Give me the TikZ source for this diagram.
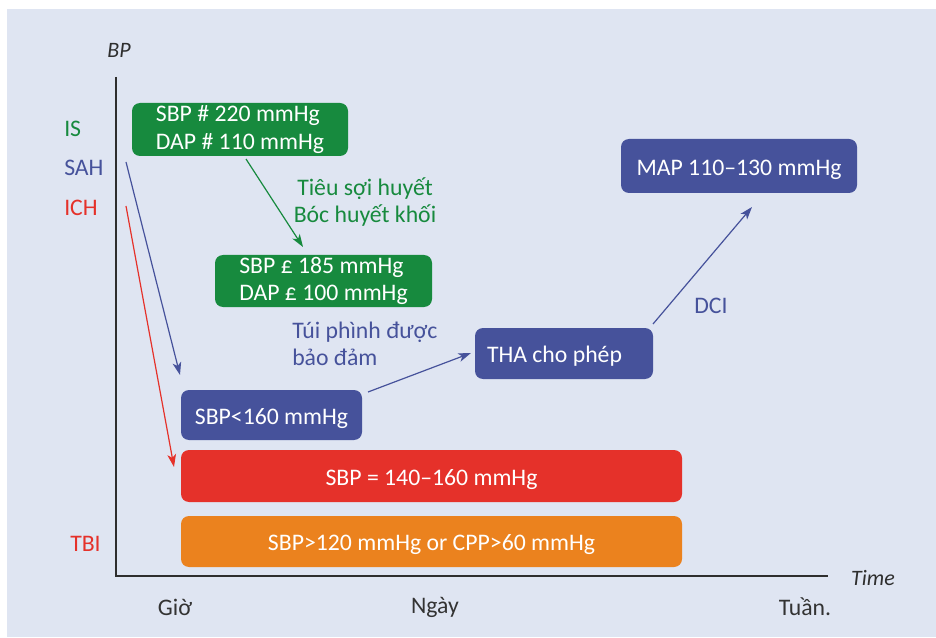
\documentclass[tikz,border=0pt]{standalone}
\usepackage{fontspec}
\setmainfont{Carlito}
\usetikzlibrary{arrows.meta}

\definecolor{panelbg}{HTML}{DFE5F2}
\definecolor{isgreen}{HTML}{178A3E}
\definecolor{sahblue}{HTML}{46529B}
\definecolor{ichred}{HTML}{E5312A}
\definecolor{tbiorange}{HTML}{EB821E}
\definecolor{axisgray}{HTML}{2E2E2E}
\definecolor{ticktext}{HTML}{333333}

\tikzset{
  box/.style={rounded corners=6pt, inner sep=0pt, text=white, align=left},
  onebox/.style={box, text height=14pt, text depth=0pt},
  tip/.style={-{Stealth[length=9.5pt,width=6.5pt,inset=2.5pt]}, line width=0.9pt},
  axisline/.style={line width=2.1pt, draw=axisgray},
  axlabel/.style={font=\fontsize{16.5}{19}\selectfont\itshape, text=axisgray, inner sep=0pt},
  tick/.style={text=ticktext, inner sep=0pt},
  side/.style={inner sep=0pt, anchor=west},
}

\begin{document}
\begin{tikzpicture}[x=0.75pt, y=-0.75pt, font=\fontsize{17.8}{20.3}\selectfont]
\useasboundingbox (0,0) rectangle (936,638);
\fill[white] (0,0) rectangle (936,638);
\fill[panelbg] (7,9) rectangle (936,637);

% axes
\coordinate (top) at (116,77);
\coordinate (origin) at (116,576);
\coordinate (right) at (828,576);
\draw[axisline] (top) -- (origin) -- (right);
\node[axlabel] (bp) at (119,50) {BP};
\node[axlabel] (time) at (873,578) {Time};

% time scale
\node[tick] (gio) at (175,607) {Giờ};
\node[tick] (ngay) at (435,607) {Ngày};
\node[tick] (tuan) at (805,607) {Tuần.};

% conditions
\node[side, text=isgreen] (is) at (64,129) {IS};
\node[side, text=sahblue] (sah) at (64,168) {SAH};
\node[side, text=ichred] (ich) at (64,208) {ICH};
\node[side, text=ichred] (tbi) at (70,544) {TBI};

% target boxes
\node[box, fill=isgreen, minimum width=162pt, minimum height=39.75pt] (g1) at (240,129.5)
  {SBP \# 220 mmHg\\DAP \# 110 mmHg};
\node[box, fill=isgreen, minimum width=162.75pt, minimum height=39pt] (g2) at (323.5,281)
  {SBP £ 185 mmHg\\DAP £ 100 mmHg};
\node[onebox, fill=sahblue, minimum width=135.75pt, minimum height=37.5pt] (b1) at (271.5,415)
  {SBP<160 mmHg};
\node[onebox, fill=sahblue, minimum height=38.25pt, inner xsep=9pt, text width=115.5pt,
      align=flush left] (tha) at (564,353.5)
  {THA cho phép};
\node[onebox, fill=sahblue, minimum width=177pt, minimum height=40.5pt] (map) at (739,166)
  {MAP 110–130 mmHg};
\node[onebox, fill=ichred, minimum width=375.75pt, minimum height=39pt] (ichbox) at (431.5,476)
  {SBP = 140–160 mmHg};
\node[onebox, fill=tbiorange, minimum width=375.75pt, minimum height=38.25pt] (tbibox) at (431.5,541.5)
  {SBP>120 mmHg or CPP>60 mmHg};

% annotations
\node[text=isgreen, align=center, inner sep=0pt] (lysis) at (365,202)
  {Tiêu sợi huyết\\Bóc huyết khối};
\node[text=sahblue, align=left, inner sep=0pt, anchor=west] (aneur) at (292,344)
  {Túi phình được\\bảo đảm};
\node[text=sahblue, inner sep=0pt] (dci) at (711,306) {DCI};

% arrow end points
\coordinate (sahS) at (126,162);
\coordinate (sahE) at (180,375);
\coordinate (ichS) at (126,206);
\coordinate (ichE) at (174,467);
\coordinate (gS) at (246,159);
\coordinate (gE) at (303,247);
\coordinate (bS) at (368,392);
\coordinate (bE) at (471,353);
\coordinate (dS) at (653,324);
\coordinate (dE) at (752,207);

\draw[tip, draw=sahblue] (sahS) -- (sahE);
\draw[tip, draw=ichred] (ichS) -- (ichE);
\draw[tip, draw=isgreen] (gS) -- (gE);
\draw[tip, draw=sahblue] (bS) -- (bE);
\draw[tip, draw=sahblue] (dS) -- (dE);
\end{tikzpicture}
\end{document}
